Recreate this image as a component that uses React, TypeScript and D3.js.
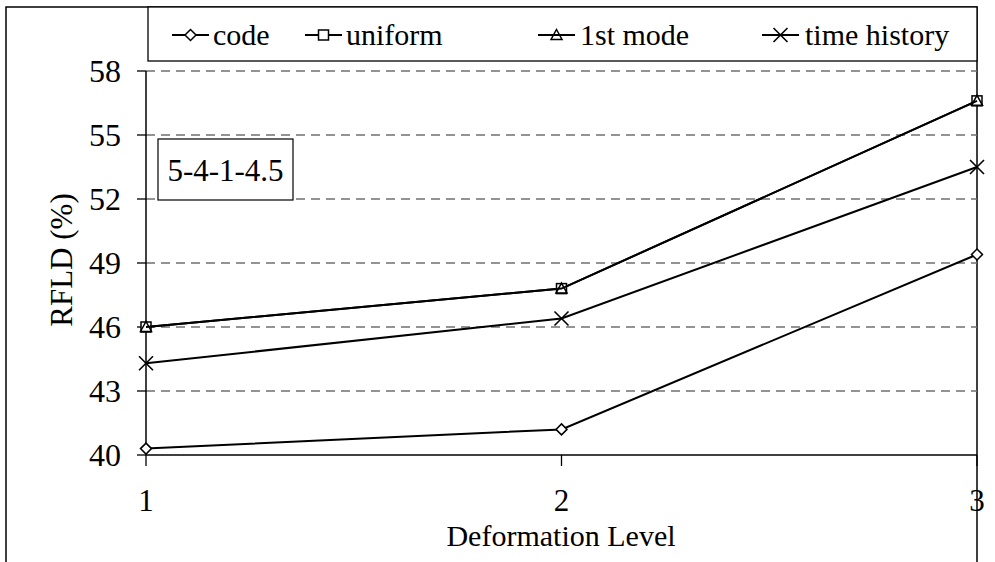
import React from 'react';
import * as d3 from 'd3';

const levels = [1, 2, 3];
const yTicks = [40, 43, 46, 49, 52, 55, 58];
const codeValues = [40.3, 41.2, 49.4];
const uniformValues = [46.0, 47.8, 56.6];
const firstModeValues = [46.0, 47.8, 56.6];
const timeHistoryValues = [44.3, 46.4, 53.5];

const seriesNames = ['code', 'uniform', '1st mode', 'time history'];
const seriesValues = [codeValues, uniformValues, firstModeValues, timeHistoryValues];
const markerKinds = ['diamond', 'square', 'triangle', 'cross'];

const FONT = "'Liberation Serif', 'DejaVu Serif', serif";

function Marker({ kind, x, y }: { kind: string; x: number; y: number }) {
  const s = 5.5;
  if (kind === 'diamond') {
    return <path d={`M${x},${y - s}L${x + s},${y}L${x},${y + s}L${x - s},${y}Z`} fill="white" stroke="black" strokeWidth={1.5} />;
  }
  if (kind === 'square') {
    return <rect x={x - 5} y={y - 5} width={10} height={10} fill="white" stroke="black" strokeWidth={1.5} />;
  }
  if (kind === 'triangle') {
    return <path d={`M${x},${y - 5.5}L${x + 5.5},${y + 4.5}L${x - 5.5},${y + 4.5}Z`} fill="none" stroke="black" strokeWidth={1.5} />;
  }
  return (
    <g stroke="black" strokeWidth={1.6}>
      <line x1={x - 7} y1={y - 7} x2={x + 7} y2={y + 7} />
      <line x1={x - 7} y1={y + 7} x2={x + 7} y2={y - 7} />
    </g>
  );
}

export default function App() {
  const left = 146;
  const right = 977;
  const top = 71;
  const bottom = 455;

  const x = d3.scaleLinear().domain([1, 3]).range([left, right]);
  const y = d3.scaleLinear().domain([40, 58]).range([bottom, top]);

  const line = d3
    .line<number>()
    .x((_, i) => x(levels[i]))
    .y((d) => y(d));

  const legendItems = [
    { lx: 172, tx: 213 },
    { lx: 305, tx: 346 },
    { lx: 538, tx: 580 },
    { lx: 762, tx: 805 },
  ];
  const legendY = 35;

  return (
    <svg
      width={995}
      height={562}
      style={{ position: 'absolute', left: 0, top: 0, background: 'white', fontFamily: FONT }}
    >
      {/* chart area border */}
      <rect x={6} y={7} width={971} height={600} fill="white" stroke="black" strokeWidth={1.5} />

      {/* gridlines */}
      {yTicks.slice(1).map((t) => (
        <line key={t} x1={left} x2={right} y1={y(t)} y2={y(t)} stroke="#707070" strokeWidth={1.3} strokeDasharray="9,6" />
      ))}

      {/* y axis */}
      <line x1={left} x2={left} y1={top} y2={bottom} stroke="black" strokeWidth={1.5} />
      {yTicks.map((t) => (
        <g key={t}>
          <line x1={left - 9} x2={left} y1={y(t)} y2={y(t)} stroke="black" strokeWidth={1.3} />
          <text x={121} y={y(t)} dy="0.35em" textAnchor="end" fontSize={32} style={{ fontFamily: FONT }}>
            {t}
          </text>
        </g>
      ))}

      {/* x axis */}
      <line x1={left} x2={right} y1={bottom} y2={bottom} stroke="black" strokeWidth={1.5} />
      {levels.map((l) => (
        <g key={l}>
          <line x1={x(l)} x2={x(l)} y1={bottom} y2={bottom + 11} stroke="black" strokeWidth={1.3} />
          <text x={x(l)} y={511} textAnchor="middle" fontSize={31} style={{ fontFamily: FONT }}>
            {l}
          </text>
        </g>
      ))}

      <text x={561} y={546} textAnchor="middle" fontSize={30} style={{ fontFamily: FONT }}>
        Deformation Level
      </text>
      <text transform="translate(72,260) rotate(-90)" textAnchor="middle" fontSize={31} style={{ fontFamily: FONT }}>
        RFLD (%)
      </text>

      {/* series */}
      {seriesValues.map((vals, si) => (
        <g key={seriesNames[si]}>
          <path d={line(vals) || ''} fill="none" stroke="black" strokeWidth={2} />
          {vals.map((v, i) => (
            <Marker key={i} kind={markerKinds[si]} x={x(levels[i])} y={y(v)} />
          ))}
        </g>
      ))}

      {/* annotation box */}
      <rect x={158} y={139} width={135} height={61} fill="white" stroke="black" strokeWidth={1.2} />
      <text x={225.5} y={170} dy="0.35em" textAnchor="middle" fontSize={31} style={{ fontFamily: FONT }}>
        5-4-1-4.5
      </text>

      {/* legend */}
      <rect x={148} y={7} width={829} height={54} fill="white" stroke="black" strokeWidth={1.3} />
      {legendItems.map((it, i) => (
        <g key={seriesNames[i]}>
          <line x1={it.lx} x2={it.lx + 37} y1={legendY} y2={legendY} stroke="black" strokeWidth={2} />
          <Marker kind={markerKinds[i]} x={it.lx + 18.5} y={legendY} />
          <text x={it.tx} y={legendY} dy="0.33em" fontSize={30} style={{ fontFamily: FONT }}>
            {seriesNames[i]}
          </text>
        </g>
      ))}
    </svg>
  );
}
